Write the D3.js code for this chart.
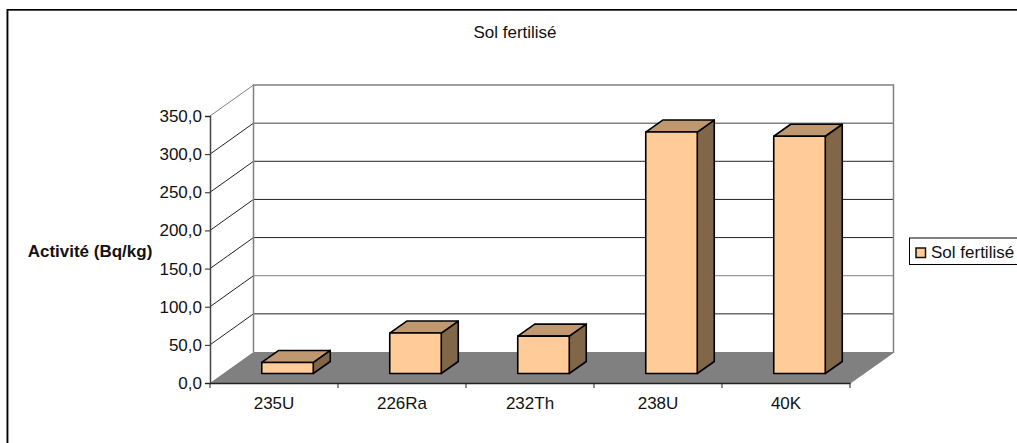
<!DOCTYPE html>
<html>
<head>
<meta charset="utf-8">
<script src="https://cdn.jsdelivr.net/npm/d3@7/dist/d3.min.js"></script>
<style>
html, body { margin: 0; padding: 0; background: #fff; overflow: hidden; }
svg { display: block; }
text { font-family: "Liberation Sans", Arial, sans-serif; fill: #111; }
</style>
</head>
<body>
<svg id="chart" width="1017" height="443"></svg>
<script>
const categories = ["235U", "226Ra", "232Th", "238U", "40K"];
const activity = [14.5, 53, 49, 316.5, 311];
const yTicks = [0, 50, 100, 150, 200, 250, 300, 350];
const greyBackLines = [350, 300, 100];
const seriesName = "Sol fertilisé";
const chartTitle = "Sol fertilisé";
const yTitle = "Activité (Bq/kg)";

const svg = d3.select("#chart");
const fmt = v => v.toFixed(1).replace(".", ",");
const FONT = 17;

// Plot box: front plane, plus the oblique offset of the back wall
const y = d3.scaleLinear().domain([0, 350]).range([383, 116]);
const x = d3.scaleBand().domain(categories).range([210, 850]);
const wallDx = 43.5, wallDy = -31;

// Bars stand partway back on the floor
const barDx = 17, barDy = -12;
const barShiftX = 13.5, barShiftY = -9.5;
const barW = 51.5;

const line = pts => "M" + pts.map(p => p.join(",")).join("L") + "Z";

// Outer frame runs off the right and bottom of the page
svg.append("rect").attr("x", 8.5).attr("y", 10.5).attr("width", 1030).attr("height", 450)
  .attr("fill", "none").attr("stroke", "#9a9a9a").attr("stroke-width", 1);
svg.append("rect").attr("x", 7.25).attr("y", 9.75).attr("width", 1030).attr("height", 450)
  .attr("fill", "none").attr("stroke", "#000").attr("stroke-width", 1.5);

svg.append("text").attr("x", 515).attr("y", 38).attr("text-anchor", "middle")
  .attr("font-size", FONT).text(chartTitle);

// Floor
svg.append("path")
  .attr("d", line([[210, y(0)], [850, y(0)], [850 + wallDx, y(0) + wallDy], [210 + wallDx, y(0) + wallDy]]))
  .attr("fill", "#808080");

// Gridlines: side wall segment, then back wall segment
const grid = svg.append("g").attr("fill", "none");
grid.selectAll("path.side").data(yTicks.slice(1)).join("path").attr("class", "side")
  .attr("d", v => `M210,${y(v)}L${210 + wallDx},${y(v) + wallDy}`)
  .attr("stroke", v => v === 350 ? "#808080" : "#222");
grid.selectAll("path.back").data(yTicks.slice(1, -1)).join("path").attr("class", "back")
  .attr("d", v => `M${210 + wallDx},${y(v) + wallDy}H${850 + wallDx}`)
  .attr("stroke", v => greyBackLines.includes(v) ? "#808080" : "#222")
  .attr("stroke-width", v => v === 300 ? 1.5 : 1);
svg.append("path")
  .attr("d", `M${210 + wallDx},${y(0) + wallDy}V${y(350) + wallDy}H${850 + wallDx}V${y(0) + wallDy}L850,${y(0)}`)
  .attr("fill", "none").attr("stroke", "#808080").attr("stroke-width", 1.5);

// Axes
const yAxis = d3.axisLeft(y).tickValues(yTicks).tickFormat(fmt).tickSize(5).tickPadding(3);
const yG = svg.append("g").attr("transform", "translate(210,0)").call(yAxis);
const xAxis = d3.axisBottom(x).tickSize(0).tickPadding(14);
const xG = svg.append("g").attr("transform", `translate(0,${y(0)})`).call(xAxis);
xG.selectAll(".tickmark").data(d3.range(categories.length + 1)).join("line")
  .attr("class", "tickmark")
  .attr("x1", i => 210 + i * x.bandwidth()).attr("x2", i => 210 + i * x.bandwidth())
  .attr("y1", 0).attr("y2", 5).attr("stroke", "#222");
[yG, xG].forEach(g => {
  g.selectAll("text").attr("font-size", FONT).attr("font-family", '"Liberation Sans", Arial, sans-serif').attr("fill", "#111");
  g.selectAll(".tick line").attr("stroke", "#222");
});
yG.select(".domain").attr("stroke", "#444").attr("stroke-width", 1.5);
xG.select(".domain").attr("stroke", "#222").attr("stroke-width", 1.5);

// 3D bars: side, top, front
const bars = svg.append("g").selectAll("g").data(categories).join("g");
const bx = c => x(c) + x.bandwidth() / 2 - barW / 2 + barShiftX;
const base = y(0) + barShiftY;
const topOf = i => base - (y(0) - y(activity[i]));
const stroke = g => g.attr("stroke", "#000").attr("stroke-width", 1.6).attr("stroke-linejoin", "round");

bars.append("path").attr("fill", "#816748").call(stroke)
  .attr("d", (c, i) => line([[bx(c) + barW, topOf(i)], [bx(c) + barW + barDx, topOf(i) + barDy], [bx(c) + barW + barDx, base + barDy], [bx(c) + barW, base]]));
bars.append("path").attr("fill", "#bf9870").call(stroke)
  .attr("d", (c, i) => line([[bx(c), topOf(i)], [bx(c) + barDx, topOf(i) + barDy], [bx(c) + barW + barDx, topOf(i) + barDy], [bx(c) + barW, topOf(i)]]));
bars.append("rect").attr("fill", "#ffcc99").call(stroke)
  .attr("x", c => bx(c)).attr("y", (c, i) => topOf(i))
  .attr("width", barW).attr("height", (c, i) => base - topOf(i));

// Y axis title
svg.append("text").attr("x", 90).attr("y", 257).attr("text-anchor", "middle")
  .attr("font-size", FONT).attr("font-weight", "bold").text(yTitle);

// Legend, clipped by the right edge of the page
const legend = svg.append("g");
legend.append("rect").attr("x", 909.5).attr("y", 238).attr("width", 120).attr("height", 26.5)
  .attr("fill", "#fff").attr("stroke", "#000");
legend.append("rect").attr("x", 916).attr("y", 248).attr("width", 9.5).attr("height", 9.5)
  .attr("fill", "#ffcc99").attr("stroke", "#111").attr("stroke-width", 1.5);
legend.append("text").attr("x", 931).attr("y", 257.5).attr("font-size", FONT).text(seriesName);
</script>
</body>
</html>
